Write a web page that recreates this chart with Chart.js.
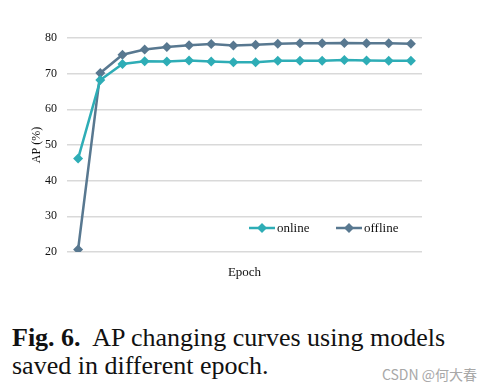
<!DOCTYPE html>
<html>
<head>
<meta charset="utf-8">
<script src="https://cdn.jsdelivr.net/npm/chart.js@4"></script>
<style>
  body { margin: 0; background: #fff; width: 492px; height: 391px; overflow: hidden; position: relative; }
  #wrap { position: absolute; left: 0; top: 0; width: 492px; height: 300px; }
  .cap { position: absolute; left: 12px; font-family: "Liberation Serif", serif; font-size: 26px; line-height: 30px; color: #111; white-space: nowrap; }
  .mark { position: absolute; right: 15px; top: 364px; font-family: "Noto Sans CJK SC", sans-serif; font-size: 14px; color: #a8a8a8; }
</style>
</head>
<body>
<div id="wrap"><canvas id="apChart"></canvas></div>
<div class="cap" style="top:323px"><b>Fig. 6.</b>&nbsp; AP changing curves using models</div>
<div class="cap" style="top:351px">saved in different epoch.</div>
<div class="mark">CSDN @何大春</div>
<script>
const epochs = ['1', '2', '3', '4', '5', '6', '7', '8', '9', '10', '11', '12', '13', '14', '15', '16'];
const online = [46.2, 68.2, 72.7, 73.5, 73.4, 73.7, 73.4, 73.2, 73.2, 73.6, 73.6, 73.6, 73.8, 73.7, 73.6, 73.6];
const offline = [20.7, 70.2, 75.3, 76.8, 77.5, 78.0, 78.3, 77.9, 78.1, 78.4, 78.5, 78.5, 78.6, 78.5, 78.5, 78.4];
const yTicks = [20, 30, 40, 50, 60, 70, 80];

const colors = { online: '#2eadb6', offline: '#587890', grid: '#d9d9d9' };
const serif = '"Liberation Serif", "Times New Roman", serif';

// legend drawn inside the plot, bottom right
const insideLegend = {
  id: 'insideLegend',
  afterDraw(chart) {
    const ctx = chart.ctx;
    const y = 228;
    const items = [{ x: 249, ds: chart.data.datasets[0] }, { x: 336, ds: chart.data.datasets[1] }];
    ctx.save();
    items.forEach(it => {
      ctx.strokeStyle = it.ds.borderColor;
      ctx.lineWidth = 2.5;
      ctx.beginPath();
      ctx.moveTo(it.x, y);
      ctx.lineTo(it.x + 26, y);
      ctx.stroke();
      ctx.fillStyle = it.ds.borderColor;
      ctx.beginPath();
      ctx.moveTo(it.x + 13, y - 5);
      ctx.lineTo(it.x + 18, y);
      ctx.lineTo(it.x + 13, y + 5);
      ctx.lineTo(it.x + 8, y);
      ctx.closePath();
      ctx.fill();
      ctx.fillStyle = '#111';
      ctx.font = '13px ' + serif;
      ctx.textBaseline = 'middle';
      ctx.fillText(it.ds.label, it.x + 28, y + 1);
    });
    ctx.restore();
  }
};

const ctx = document.getElementById('apChart').getContext('2d');
new Chart(ctx, {
  type: 'line',
  data: {
    labels: epochs,
    datasets: [
      {
        label: 'online',
        data: online,
        borderColor: colors.online,
        backgroundColor: colors.online,
        borderWidth: 2.5,
        pointStyle: 'rectRot',
        pointRadius: 5,
        pointBorderWidth: 0,
        tension: 0
      },
      {
        label: 'offline',
        data: offline,
        borderColor: colors.offline,
        backgroundColor: colors.offline,
        borderWidth: 2.5,
        pointStyle: 'rectRot',
        pointRadius: 5,
        pointBorderWidth: 0,
        tension: 0
      }
    ]
  },
  options: {
    responsive: true,
    maintainAspectRatio: false,
    animation: false,
    layout: { padding: { top: 38, right: 70, left: 0, bottom: 0 } },
    plugins: { legend: { display: false }, tooltip: { enabled: false } },
    scales: {
      x: {
        offset: true,
        grid: { display: false },
        border: { display: false },
        ticks: { display: false },
        title: { display: true, text: 'Epoch', color: '#111', font: { family: serif, size: 13 }, padding: { top: 0, bottom: 20 } },
        afterFit(scale) { scale.height = 48; }
      },
      y: {
        min: 20,
        max: 80,
        afterBuildTicks(scale) { scale.ticks = yTicks.map(v => ({ value: v })); },
        grid: { color: colors.grid, lineWidth: 1.5, drawTicks: false },
        border: { display: false },
        ticks: { color: '#111', font: { family: serif, size: 12 }, padding: 10 },
        title: { display: true, text: 'AP (%)', color: '#111', font: { family: serif, size: 12 }, padding: { top: 30, bottom: 0 } },
        afterFit(scale) { scale.width = 67; }
      }
    }
  },
  plugins: [insideLegend]
});
</script>
</body>
</html>
